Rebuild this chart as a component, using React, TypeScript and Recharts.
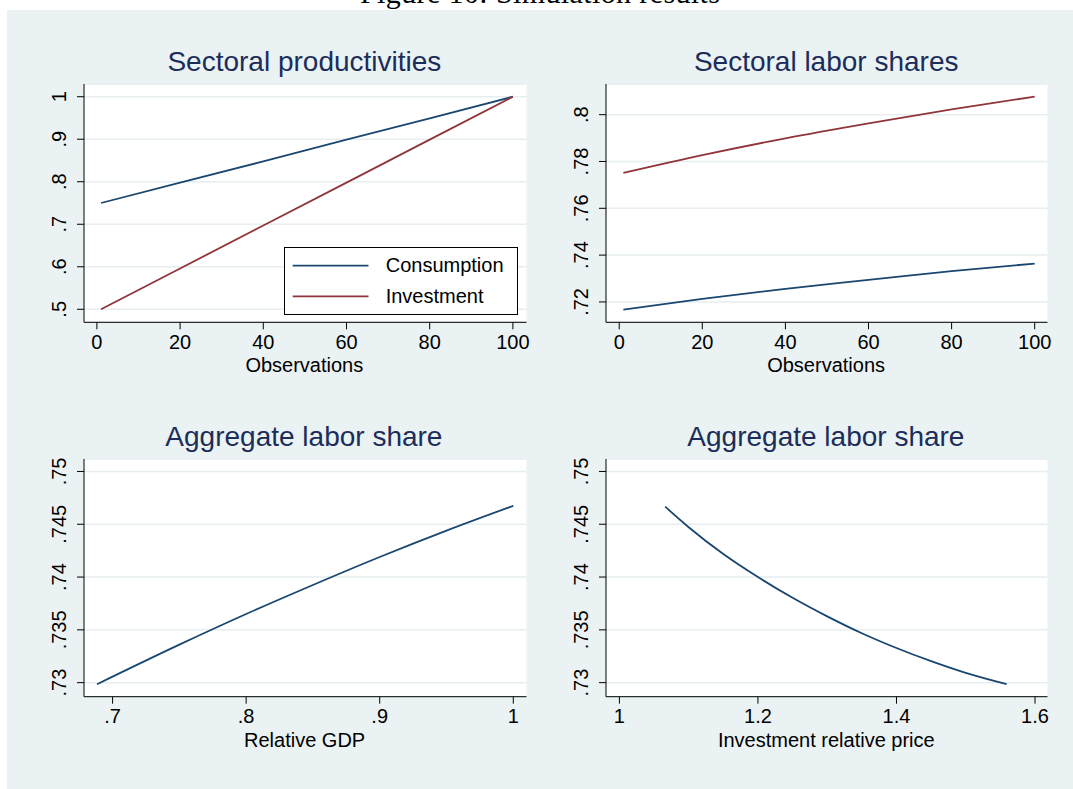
import { LineChart, Line, XAxis, YAxis, CartesianGrid, Legend } from "recharts";

// top row: simulated series over 100 observations
const observations = [1, 20, 40, 60, 80, 100];
const productivityConsumption = [0.75, 0.798, 0.848, 0.899, 0.949, 1.0];
const productivityInvestment = [0.5, 0.596, 0.697, 0.798, 0.899, 1.0];
const laborShareConsumption = [0.7167, 0.7213, 0.7256, 0.7294, 0.7332, 0.7364];
const laborShareInvestment = [0.7751, 0.7827, 0.7899, 0.7963, 0.8023, 0.8077];

// bottom row: aggregate labor share
const relativeGdp = [0.6883, 0.75, 0.8, 0.85, 0.9, 0.95, 1.0];
const aggShareByGdp = [0.72985, 0.7336, 0.7365, 0.73925, 0.7419, 0.7444, 0.74675];
const investmentPrice = [1.066, 1.1, 1.15, 1.2, 1.25, 1.3, 1.35, 1.4, 1.45, 1.5, 1.559];
const aggShareByPrice = [0.74667, 0.74472, 0.74218, 0.74, 0.73804, 0.73628, 0.73468, 0.73328, 0.73203, 0.73092, 0.72985];

const obsTicks = [0, 20, 40, 60, 80, 100];
const productivityTicks = [0.5, 0.6, 0.7, 0.8, 0.9, 1];
const laborShareTicks = [0.72, 0.74, 0.76, 0.78, 0.8];
const aggTicks = [0.73, 0.735, 0.74, 0.745, 0.75];
const gdpTicks = [0.7, 0.8, 0.9, 1];
const priceTicks = [1, 1.2, 1.4, 1.6];

const NAVY = "#1a476f";
const MAROON = "#90353b";
const INK = "#000";
const TITLE = "#1c2d5a";
const GRID = "#e6eef0";
const BG = "#eaf2f3";
const FONT = "'Liberation Sans', Arial, sans-serif";

// stata-style labels: .5 instead of 0.5
const fmt = (v: number) => {
  const s = String(Number(v.toFixed(3)));
  return s.startsWith("0.") ? s.slice(1) : s;
};

const XTick = ({ x, y, payload }: any) => (
  <text x={x} y={y + 19.5} textAnchor="middle" fontSize={20} fill={INK} fontFamily={FONT}>
    {fmt(payload.value)}
  </text>
);

const YTick = ({ x, y, payload }: any) => {
  const bx = x - 11.4;
  return (
    <text x={bx} y={y} transform={`rotate(-90 ${bx} ${y})`} textAnchor="middle" fontSize={20} fill={INK} fontFamily={FONT}>
      {fmt(payload.value)}
    </text>
  );
};

const LegendBox = ({ payload }: any) => (
  <svg width={234} height={68} style={{ display: "block" }}>
    <rect x={0.5} y={0.5} width={233} height={67} fill="#fff" stroke="#000" />
    {(payload || []).map((p: any, i: number) => (
      <g key={p.value}>
        <line x1={8.7} x2={84.5} y1={18.7 + i * 30.6} y2={18.7 + i * 30.6} stroke={p.color} strokeWidth={1.8} />
        <text x={101.7} y={25.3 + i * 31} fontSize={20} fill={INK} fontFamily={FONT}>
          {p.value}
        </text>
      </g>
    ))}
  </svg>
);

type Series = { key: string; name: string; color: string };
type PanelProps = {
  l: number; r: number; t: number; b: number;
  data: any[];
  xKey: string;
  xDomain: [number, number];
  xTicks: number[];
  yDomain: [number, number];
  yTicks: number[];
  series: Series[];
  curve?: "linear" | "monotone";
  legendAt?: { left: number; top: number };
};

// chart box is placed so that the plot area lands on l..r, t..b
const Panel = ({ l, r, t, b, data, xKey, xDomain, xTicks, yDomain, yTicks, series, curve = "linear", legendAt }: PanelProps) => (
  <div style={{ position: "absolute", left: l - 80, top: t - 10 }}>
    <LineChart
      width={r - l + 90}
      height={b - t + 80}
      data={data}
      margin={{ top: 10, right: 10, left: 40, bottom: 30 }}
    >
      <CartesianGrid vertical={false} fill="#fff" stroke={GRID} strokeWidth={1.5} />
      <XAxis
        type="number"
        dataKey={xKey}
        domain={xDomain}
        allowDataOverflow
        ticks={xTicks}
        interval={0}
        height={40}
        tickSize={7}
        tickMargin={0}
        stroke={INK}
        tick={<XTick />}
      />
      <YAxis
        type="number"
        domain={yDomain}
        allowDataOverflow
        ticks={yTicks}
        interval={0}
        width={40}
        tickSize={7}
        tickMargin={0}
        stroke={INK}
        tick={<YTick />}
      />
      {legendAt && (
        <Legend
          layout="vertical"
          align="center"
          verticalAlign="middle"
          content={<LegendBox />}
          wrapperStyle={{ left: legendAt.left - (l - 80), top: legendAt.top - (t - 10), width: 234, height: 68 }}
        />
      )}
      {series.map((s) => (
        <Line
          key={s.key}
          type={curve}
          dataKey={s.key}
          name={s.name}
          stroke={s.color}
          strokeWidth={1.8}
          dot={false}
          activeDot={false}
          isAnimationActive={false}
        />
      ))}
    </LineChart>
  </div>
);

const productivityData = observations.map((o, i) => ({
  obs: o,
  consumption: productivityConsumption[i],
  investment: productivityInvestment[i],
}));
const laborShareData = observations.map((o, i) => ({
  obs: o,
  consumption: laborShareConsumption[i],
  investment: laborShareInvestment[i],
}));
const gdpData = relativeGdp.map((g, i) => ({ gdp: g, share: aggShareByGdp[i] }));
const priceData = investmentPrice.map((p, i) => ({ price: p, share: aggShareByPrice[i] }));

const bothSectors: Series[] = [
  { key: "consumption", name: "Consumption", color: NAVY },
  { key: "investment", name: "Investment", color: MAROON },
];
const aggregate: Series[] = [{ key: "share", name: "Aggregate labor share", color: NAVY }];

export default function App() {
  return (
    <div style={{ position: "absolute", left: 0, top: 0, width: 1073, height: 789, background: "#fff", overflow: "hidden", fontFamily: FONT }}>
      <div style={{ position: "absolute", left: 7, top: 10, width: 1066, height: 779, background: BG }} />

      <Panel
        l={83.5} r={526} t={84} b={322.3}
        data={productivityData}
        xKey="obs"
        xDomain={[-3.1, 103.27]}
        xTicks={obsTicks}
        yDomain={[0.4694, 1.0299]}
        yTicks={productivityTicks}
        series={bothSectors}
        legendAt={{ left: 284, top: 247 }}
      />
      <Panel
        l={605.5} r={1047} t={84} b={322.3}
        data={laborShareData}
        xKey="obs"
        xDomain={[-3.18, 103.08]}
        xTicks={obsTicks}
        yDomain={[0.7113, 0.8131]}
        yTicks={laborShareTicks}
        series={bothSectors}
        curve="monotone"
      />
      <Panel
        l={83.5} r={526} t={459} b={696.7}
        data={gdpData}
        xKey="gdp"
        xDomain={[0.6786, 1.0099]}
        xTicks={gdpTicks}
        yDomain={[0.72867, 0.75118]}
        yTicks={aggTicks}
        series={aggregate}
        curve="monotone"
      />
      <Panel
        l={605.5} r={1047} t={459} b={696.7}
        data={priceData}
        xKey="price"
        xDomain={[0.98066, 1.618]}
        xTicks={priceTicks}
        yDomain={[0.72867, 0.75118]}
        yTicks={aggTicks}
        series={aggregate}
        curve="monotone"
      />

      <svg width={1073} height={789} style={{ position: "absolute", left: 0, top: 0, pointerEvents: "none" }}>
        <text x={540} y={2.5} textAnchor="middle" fontFamily="'Liberation Serif', 'DejaVu Serif', serif" fontSize={30} textLength={360} fill="#000">
          Figure 10: Simulation results
        </text>
        <g fontFamily={FONT} fontSize={28} fill={TITLE} textAnchor="middle">
          <text x={304.4} y={71}>Sectoral productivities</text>
          <text x={826.2} y={71}>Sectoral labor shares</text>
          <text x={303.9} y={446}>Aggregate labor share</text>
          <text x={825.9} y={446}>Aggregate labor share</text>
        </g>
        <g fontFamily={FONT} fontSize={20} fill={INK} textAnchor="middle">
          <text x={304.3} y={372}>Observations</text>
          <text x={826.1} y={372}>Observations</text>
          <text x={304.6} y={746.5}>Relative GDP</text>
          <text x={826.3} y={746.5}>Investment relative price</text>
        </g>
      </svg>
    </div>
  );
}
